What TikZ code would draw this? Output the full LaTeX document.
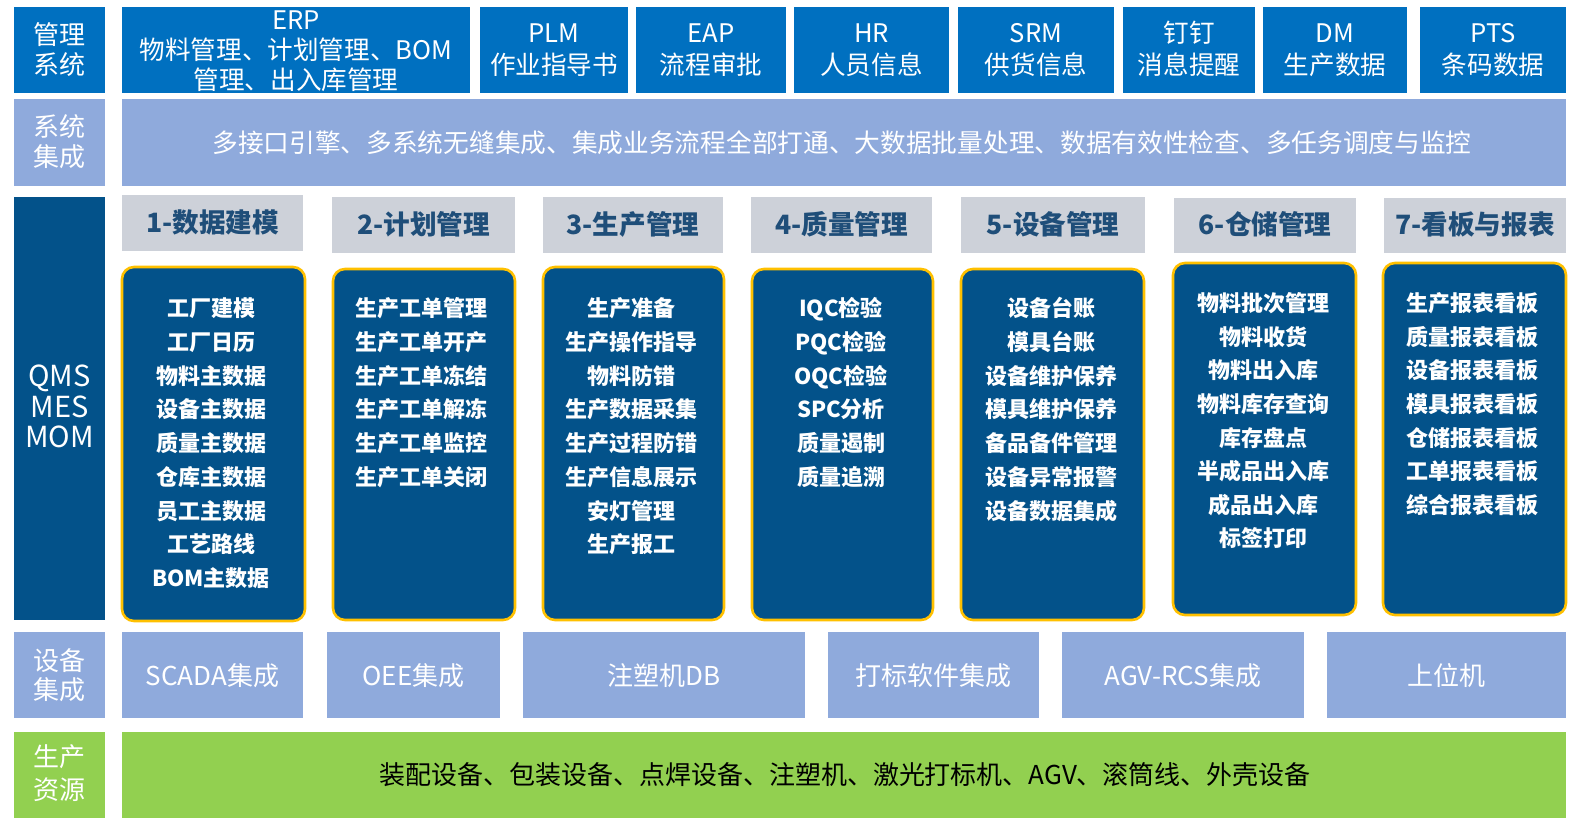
\documentclass[tikz,border=0pt]{standalone}
\usepackage{fontspec}
\setmainfont{Noto Sans CJK SC}
\usetikzlibrary{fit}
\definecolor{topblue}{HTML}{0070C0}
\definecolor{lightblue}{HTML}{8FAADC}
\definecolor{navy}{HTML}{03528A}
\definecolor{headgray}{HTML}{CDD1D9}
\definecolor{headtext}{HTML}{1F4E79}
\definecolor{gold}{HTML}{FFC000}
\definecolor{leaf}{HTML}{92D050}
\begin{document}
\begin{tikzpicture}[x=0.5pt,y=-0.5pt,
  cell/.style={inner sep=0pt, outer sep=0pt},
  sysbox/.style={cell, fill=topblue},
  intbox/.style={cell, fill=lightblue},
  headbox/.style={cell, fill=headgray},
  modbox/.style={cell, fill=navy, draw=gold, line width=1.3pt, rounded corners=6pt},
  resbox/.style={cell, fill=leaf},
  txt/.style={inner sep=0pt, text height=0.98em, text depth=0.02em},
  systxt/.style={txt, text=white, font=\fontsize{12.8}{15}\selectfont},
  sidetxt/.style={txt, text=white, font=\fontsize{13}{15}\selectfont},
  inttxt/.style={txt, text=white, font=\fontsize{13}{15}\selectfont},
  headtxt/.style={txt, text=headtext, font=\fontsize{13.3}{15}\selectfont\bfseries},
  item/.style={txt, text=white, font=\fontsize{11}{13}\selectfont\bfseries},
  restxt/.style={txt, text=black, font=\fontsize{13}{15}\selectfont}
]
\useasboundingbox (0,0) rectangle (1576,825);

% ---- management systems row
\node[sysbox, fit={(14,7)(105,93)}] (lsys) {};
\node[sysbox, fit={(122,7)(470,93)}] (erp) {};
\node[sysbox, fit={(480,7)(628,93)}] (plm) {};
\node[sysbox, fit={(636,7)(786,93)}] (eap) {};
\node[sysbox, fit={(794,7)(949,93)}] (hr) {};
\node[sysbox, fit={(958,7)(1114,93)}] (srm) {};
\node[sysbox, fit={(1123,7)(1255,93)}] (ding) {};
\node[sysbox, fit={(1263,7)(1407,93)}] (dm) {};
\node[sysbox, fit={(1420,7)(1566,93)}] (pts) {};

\node[sidetxt] (lsys-a) at (59.5,35) {管理};
\node[sidetxt] (lsys-b) at (59.5,65) {系统};
\node[systxt] (erp-a) at (296,20) {ERP};
\node[systxt] (erp-b) at (296,50) {物料管理、计划管理、BOM};
\node[systxt] (erp-c) at (296,80) {管理、出入库管理};
\node[systxt] (plm-a) at (554,33) {PLM};
\node[systxt] (plm-b) at (554,65) {作业指导书};
\node[systxt] (eap-a) at (711,33) {EAP};
\node[systxt] (eap-b) at (711,65) {流程审批};
\node[systxt] (hr-a) at (871.5,33) {HR};
\node[systxt] (hr-b) at (871.5,65) {人员信息};
\node[systxt] (srm-a) at (1036,33) {SRM};
\node[systxt] (srm-b) at (1036,65) {供货信息};
\node[systxt] (ding-a) at (1189,33) {钉钉};
\node[systxt] (ding-b) at (1189,65) {消息提醒};
\node[systxt] (dm-a) at (1335,33) {DM};
\node[systxt] (dm-b) at (1335,65) {生产数据};
\node[systxt] (pts-a) at (1493,33) {PTS};
\node[systxt] (pts-b) at (1493,65) {条码数据};

% ---- system integration row
\node[intbox, fit={(14,99)(105,186)}] (lint) {};
\node[intbox, fit={(122,99)(1566,186)}] (integ) {};
\node[sidetxt] (lint-a) at (59.5,127) {系统};
\node[sidetxt] (lint-b) at (59.5,157) {集成};
\node[inttxt, font=\fontsize{12.85}{15}\selectfont] (integ-t) at (842,143) {多接口引擎、多系统无缝集成、集成业务流程全部打通、大数据批量处理、数据有效性检查、多任务调度与监控};

% ---- QMS / MES / MOM column
\node[cell, fill=navy, fit={(14,197)(105,620)}] (lmes) {};
\node[sidetxt, font=\fontsize{14.5}{15}\selectfont] (lmes-a) at (59.5,377) {QMS};
\node[sidetxt, font=\fontsize{14.5}{15}\selectfont] (lmes-b) at (59.5,407.5) {MES};
\node[sidetxt, font=\fontsize{14.5}{15}\selectfont] (lmes-c) at (59.5,438) {MOM};

% ---- module headers
\node[headbox, fit={(122,195)(303,251)}] (h1) {};
\node[headbox, fit={(332,197)(515,253)}] (h2) {};
\node[headbox, fit={(543,197)(723,253)}] (h3) {};
\node[headbox, fit={(751,197)(932,253)}] (h4) {};
\node[headbox, fit={(961,197)(1145,253)}] (h5) {};
\node[headbox, fit={(1174,198)(1356,253)}] (h6) {};
\node[headbox, fit={(1384,198)(1566,253)}] (h7) {};
\node[headtxt] (h1-t) at (212.5,223) {1-数据建模};
\node[headtxt] (h2-t) at (423.5,225) {2-计划管理};
\node[headtxt] (h3-t) at (633,225) {3-生产管理};
\node[headtxt] (h4-t) at (841.5,225) {4-质量管理};
\node[headtxt] (h5-t) at (1053,225) {5-设备管理};
\node[headtxt] (h6-t) at (1265,225) {6-仓储管理};
\node[headtxt] (h7-t) at (1475,225) {7-看板与报表};

% ---- module bodies
\node[modbox, fit={(122,267)(305,621)}] (b1) {};
\node[modbox, fit={(333,269)(515,620)}] (b2) {};
\node[modbox, fit={(543,267)(724,620)}] (b3) {};
\node[modbox, fit={(752,269)(933,620)}] (b4) {};
\node[modbox, fit={(961,269)(1144,620)}] (b5) {};
\node[modbox, fit={(1173,263)(1356,615)}] (b6) {};
\node[modbox, fit={(1383,263)(1566,615)}] (b7) {};

\foreach \t [count=\i from 0] in {工厂建模,工厂日历,物料主数据,设备主数据,质量主数据,仓库主数据,员工主数据,工艺路线,BOM主数据}
  \node[item] (m1-\i) at (211,{307+33.75*\i}) {\t};
\foreach \t [count=\i from 0] in {生产工单管理,生产工单开产,生产工单冻结,生产工单解冻,生产工单监控,生产工单关闭}
  \node[item] (m2-\i) at (421,{307+33.75*\i}) {\t};
\foreach \t [count=\i from 0] in {生产准备,生产操作指导,物料防错,生产数据采集,生产过程防错,生产信息展示,安灯管理,生产报工}
  \node[item] (m3-\i) at (631,{307+33.75*\i}) {\t};
\foreach \t [count=\i from 0] in {IQC检验,PQC检验,OQC检验,SPC分析,质量遏制,质量追溯}
  \node[item] (m4-\i) at (841,{307+33.75*\i}) {\t};
\foreach \t [count=\i from 0] in {设备台账,模具台账,设备维护保养,模具维护保养,备品备件管理,设备异常报警,设备数据集成}
  \node[item] (m5-\i) at (1051,{307+33.75*\i}) {\t};
\foreach \t [count=\i from 0] in {物料批次管理,物料收货,物料出入库,物料库存查询,库存盘点,半成品出入库,成品出入库,标签打印}
  \node[item] (m6-\i) at (1263,{302+33.6*\i}) {\t};
\foreach \t [count=\i from 0] in {生产报表看板,质量报表看板,设备报表看板,模具报表看板,仓储报表看板,工单报表看板,综合报表看板}
  \node[item] (m7-\i) at (1472,{302+33.6*\i}) {\t};

% ---- equipment integration row
\node[intbox, fit={(14,632)(105,718)}] (ldev) {};
\node[intbox, fit={(122,632)(303,718)}] (scada) {};
\node[intbox, fit={(327,632)(500,718)}] (oee) {};
\node[intbox, fit={(523,632)(805,718)}] (imm) {};
\node[intbox, fit={(828,632)(1039,718)}] (mark) {};
\node[intbox, fit={(1062,632)(1304,718)}] (agv) {};
\node[intbox, fit={(1327,632)(1566,718)}] (host) {};
\node[sidetxt] (ldev-a) at (59.5,661) {设备};
\node[sidetxt] (ldev-b) at (59.5,690) {集成};
\node[inttxt] (scada-t) at (212.5,676) {SCADA集成};
\node[inttxt] (oee-t) at (413.5,676) {OEE集成};
\node[inttxt] (imm-t) at (664,676) {注塑机DB};
\node[inttxt] (mark-t) at (933.5,676) {打标软件集成};
\node[inttxt] (agv-t) at (1183,676) {AGV-RCS集成};
\node[inttxt] (host-t) at (1446.5,676) {上位机};

% ---- production resources row
\node[resbox, fit={(14,732)(105,818)}] (lres) {};
\node[resbox, fit={(122,732)(1566,818)}] (res) {};
\node[sidetxt] (lres-a) at (59.5,757) {生产};
\node[sidetxt] (lres-b) at (59.5,790) {资源};
\node[restxt] (res-t) at (845,775) {装配设备、包装设备、点焊设备、注塑机、激光打标机、AGV、滚筒线、外壳设备};
\end{tikzpicture}
\end{document}
